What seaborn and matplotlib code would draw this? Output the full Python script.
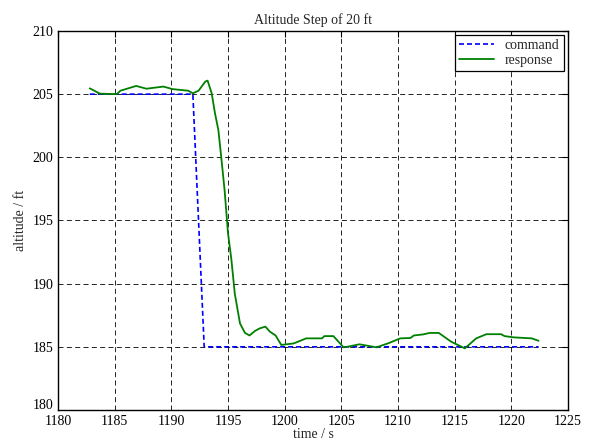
import matplotlib
matplotlib.use("Agg")
import matplotlib.pyplot as plt
import seaborn as sns
import pandas as pd

cmd_t = [1182.8, 1191.9, 1192.9, 1222.4]
cmd_alt = [205.0, 205.0, 185.0, 185.0]

resp_t = [1182.8, 1183.7, 1185.2, 1185.5, 1186.9, 1187.8, 1189.3, 1190.1, 1191.5,
          1191.9, 1192.4, 1193.0, 1193.2, 1193.56, 1193.85, 1194.15, 1194.4, 1194.7,
          1195.0, 1195.3, 1195.6, 1196.06, 1196.5, 1196.9, 1197.4, 1197.8, 1198.3,
          1198.7, 1199.2, 1199.7, 1200.8, 1201.9, 1203.3, 1203.5, 1204.3, 1205.2,
          1205.5, 1206.6, 1208.1, 1209.2, 1210.2, 1211.1, 1211.4, 1212.2, 1212.8,
          1213.6, 1214.7, 1215.9, 1216.9, 1217.8, 1219.1, 1219.4, 1220.2, 1221.8,
          1222.4]
resp_alt = [205.46, 205.04, 205.0, 205.27, 205.65, 205.43, 205.6, 205.4, 205.27,
            205.07, 205.27, 206.0, 206.07, 205.07, 203.5, 202.16, 200.05, 197.4,
            194.0, 191.9, 189.2, 186.85, 186.1, 185.9, 186.27, 186.46, 186.6,
            186.2, 185.9, 185.15, 185.27, 185.67, 185.67, 185.85, 185.85, 184.96,
            185.0, 185.2, 184.96, 185.3, 185.67, 185.7, 185.9, 185.98, 186.1,
            186.1, 185.4, 184.88, 185.67, 186.0, 186.0, 185.85, 185.75, 185.67,
            185.48]

title = "Altitude Step of 20 ft"
xlabel = "time / s"
ylabel = "altitude / ft"

sns.set_style("white")
plt.rcParams['font.family'] = ['Liberation Serif', 'DejaVu Serif']

fig = plt.figure(figsize=(5.9, 4.42), dpi=100)
ax = fig.add_axes([0.0983, 0.0724, 0.8644, 0.8575])

df_cmd = pd.DataFrame({"t": cmd_t, "alt": cmd_alt})
df_resp = pd.DataFrame({"t": resp_t, "alt": resp_alt})

sns.lineplot(data=df_cmd, x="t", y="alt", ax=ax, color="#0000ff", lw=1.2,
             label="command", sort=False)
ax.lines[-1].set_dashes((3, 1.8))
sns.lineplot(data=df_resp, x="t", y="alt", ax=ax, color="#008000", lw=1.3,
             label="response", sort=False)

ax.set_xlim(1180, 1225)
ax.set_ylim(180, 210)
ax.set_xticks(range(1180, 1226, 5))
ax.set_yticks(range(180, 211, 5))
ax.grid(True, color="black", linestyle=(0, (6, 4)), linewidth=0.6)
ax.set_axisbelow(True)
ax.tick_params(direction="in", top=True, right=True, labelsize=10, length=4,
               width=0.8, colors="black")
ax.tick_params(axis="x", pad=3.5)
ax.tick_params(axis="y", pad=3.5)
# lift the lowest y label slightly, as in the reference
ylabs = ax.get_yticklabels()
for s in ax.spines.values():
    s.set_visible(True)
    s.set_color("black")
    s.set_linewidth(1.0)

ax.set_title(title, fontsize=10, pad=5)
ax.set_xlabel(xlabel, fontsize=10, labelpad=0)
ax.set_ylabel(ylabel, fontsize=10, labelpad=4)

leg = ax.legend(loc="upper right", fontsize=10, frameon=True, fancybox=False,
                borderaxespad=0.3, handlelength=2.5, borderpad=0.3,
                labelspacing=0.1)
leg.get_frame().set_edgecolor("black")
leg.get_frame().set_linewidth(0.9)
leg.get_frame().set_alpha(1)

fig.canvas.draw()
import matplotlib.transforms as mtransforms
lab0 = ax.yaxis.get_major_ticks()[0].label1
lab0.set_transform(lab0.get_transform() + mtransforms.ScaledTranslation(0, 4 / 72, fig.dpi_scale_trans))

fig.savefig("out.png", dpi=100)
